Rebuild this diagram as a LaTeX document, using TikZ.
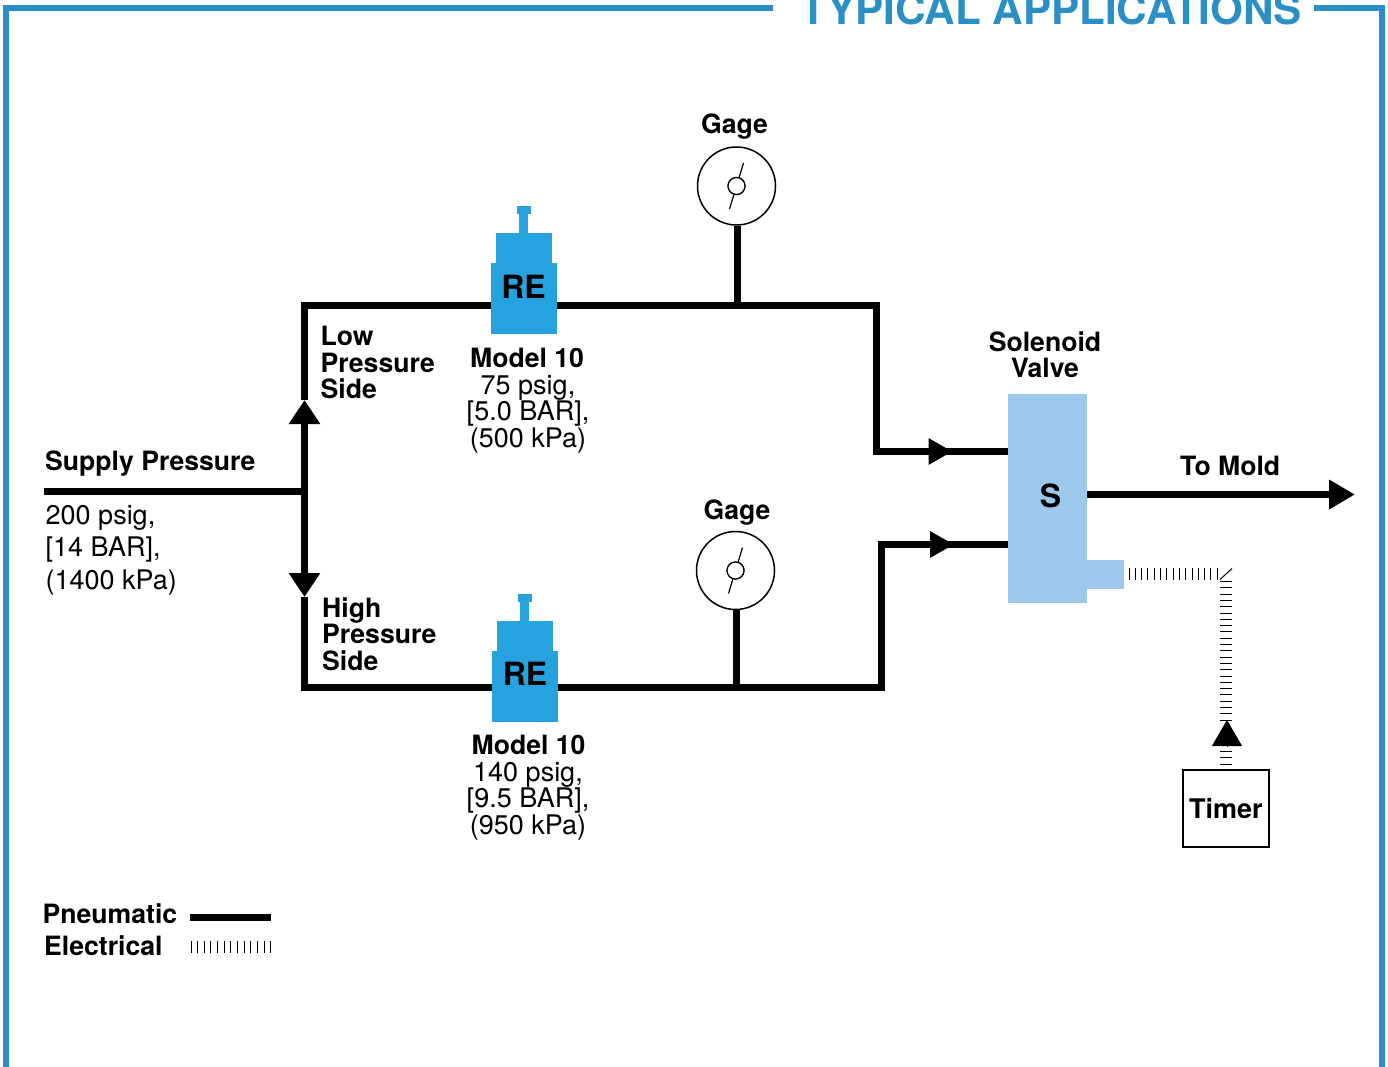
\documentclass[tikz,border=0pt]{standalone}
\usepackage{fontspec}
\setmainfont{TeX Gyre Heros}
\usetikzlibrary{arrows.meta}
\definecolor{framec}{HTML}{2A8FC4}
\definecolor{rec}{HTML}{26A3DE}
\definecolor{solc}{HTML}{9DC7EB}
\tikzset{
  lab/.style={inner sep=0pt,font=\fontsize{26.6}{26.5}\selectfont\bfseries,align=left,anchor=north west},
  val/.style={inner sep=0pt,font=\fontsize{27}{32.5}\selectfont,align=left,anchor=north west},
  cval/.style={inner sep=0pt,font=\fontsize{27}{26.5}\selectfont,align=center,anchor=north},
  pipe/.style={line width=7pt,line join=miter},
  tri/.style={-{Triangle[length=24pt,width=30pt]}},
  smalltri/.style={-{Triangle[length=24pt,width=25pt]}},
  ticks/.style={line width=12pt,dash pattern=on 1pt off 5.3pt},
  frameline/.style={line width=6pt,draw=framec},
  gage/.style={circle,draw,line width=1.5pt,minimum size=78pt,inner sep=0pt,fill=white},
  hub/.style={circle,draw,line width=1.2pt,minimum size=17pt,inner sep=0pt,fill=white},
  rebody/.style={fill=rec},
}
\newcommand{\regulator}[3]{%
  \fill[rebody] (#1+26,#2-57) rectangle (#1+40,#2-49);
  \fill[rebody] (#1+28,#2-49) rectangle (#1+37,#2-30);
  \fill[rebody] (#1+5,#2-30) rectangle (#1+61,#2);
  \node[rebody,inner sep=0pt,minimum width=66pt,minimum height=71pt,anchor=north west] (#3) at (#1,#2) {};
}
\begin{document}
\begin{tikzpicture}[x=1pt,y=-1pt]
\useasboundingbox (0,0) rectangle (1388,1067);
\clip (0,0) rectangle (1388,1067);
% frame
\coordinate (fa) at (6,1067); \coordinate (fb) at (6,8); \coordinate (fc) at (773,8);
\coordinate (fd) at (1314,8); \coordinate (fe) at (1382,8); \coordinate (ff) at (1382,1067);
\draw[frameline] (fa) -- (fb) -- (fc);
\draw[frameline] (fd) -- (fe) -- (ff);
\node[inner sep=0pt,anchor=base,text=framec,font=\fontsize{42.2}{43}\selectfont\bfseries] (title) at (1051.5,25) {TYPICAL APPLICATIONS};
% junctions
\coordinate (sup) at (44,491);
\coordinate (jn) at (304.5,491);
\coordinate (upt) at (304.5,400);
\coordinate (dnt) at (304.5,597);
\coordinate (tl) at (304.5,305);
\coordinate (bl) at (304.5,687);
\coordinate (g1j) at (737.5,305);
\coordinate (g2j) at (736.5,687);
\coordinate (tr) at (876,305);
\coordinate (trb) at (876,451.5);
\coordinate (ta1) at (952.5,451.5);
\coordinate (br) at (881,687);
\coordinate (brt) at (881,544.5);
\coordinate (ta2) at (954,544.5);
% components
\regulator{491}{263}{re1}
\regulator{492}{651}{re2}
\node[inner sep=0pt,fill=solc,minimum width=79pt,minimum height=209pt,anchor=north west] (sol) at (1008,394) {};
\node[inner sep=0pt,fill=solc,minimum width=37pt,minimum height=29pt,anchor=north west] (tab) at (1087,560) {};
\node[gage] (g1) at (736.5,186) {};
\node[gage] (g2) at (735.5,570.5) {};
\node[inner sep=0pt,draw,line width=1.5pt,minimum width=86pt,minimum height=77pt,anchor=north west,font=\fontsize{27}{27}\selectfont\bfseries] (timer) at (1182,769) {Timer};
% pipes
\draw[pipe] (sup) -- (jn);
\draw[pipe,tri] (jn) -- (upt);
\draw[pipe,tri] (jn) -- (dnt);
\draw[pipe] (upt) -- (tl) -- (re1.west |- tl);
\draw[pipe] (re1.east |- tl) -- (g1j) -- (tr) -- (trb) -- (ta1);
\draw[pipe,smalltri] (trb) -- (ta1);
\draw[pipe] (ta1) -- (sol.west |- ta1);
\draw[pipe] (dnt) -- (bl) -- (re2.west |- bl);
\draw[pipe] (re2.east |- bl) -- (g2j) -- (br) -- (brt) -- (ta2);
\draw[pipe,smalltri] (brt) -- (ta2);
\draw[pipe] (ta2) -- (sol.west |- ta2);
\draw[pipe] (g1j |- g1.south) -- (g1j);
\draw[pipe] (g2j |- g2.south) -- (g2j);
\coordinate (out) at (1355,494.5);
\draw[pipe,-{Triangle[length=26pt,width=28pt]}] (sol.east |- out) -- (out);
% gage internals
\node[hub] (h1) at (736.5,186) {};
\node[hub] (h2) at (735.5,570.5) {};
\coordinate (n1a) at (743.5,163); \coordinate (n1b) at (729.5,209);
\coordinate (n2a) at (742.5,547.5); \coordinate (n2b) at (728.5,593.5);
\draw[line width=1.2pt] (h1) -- (n1a); \draw[line width=1.2pt] (h1) -- (n1b);
\draw[line width=1.2pt] (h2) -- (n2a); \draw[line width=1.2pt] (h2) -- (n2b);
\node[hub] at (h1) {};
\node[hub] at (h2) {};
% electrical
\coordinate (e1) at (1128.5,573.5); \coordinate (e2) at (1220,573.5);
\draw[ticks] (e1) -- (e2);
\coordinate (e3) at (1226,581); \coordinate (e4) at (1226,720);
\draw[ticks] (e3) -- (e4);
\coordinate (e5) at (1220,579.5); \coordinate (e6) at (1232,568.5);
\draw[line width=1pt] (e5) -- (e6);
\coordinate (e7) at (1226,751); \coordinate (e8) at (1226,766);
\draw[ticks] (e7) -- (e8);
\coordinate (e9) at (1227,746);
\draw[-{Triangle[length=26pt,width=30pt]},line width=1pt] (e9) -- (1227,720);
% labels
\node[lab] (gl1) at (701,114) {Gage};
\node[lab] (gl2) at (703.5,500) {Gage};
\node[lab] (low) at (320.5,326) {Low\\Pressure\\Side};
\node[lab] (high) at (322,597) {High\\Pressure\\Side};
\node[lab] (supl) at (45,451) {Supply Pressure};
\node[val] (supv) at (45.5,505) {200 psig,\\{}[14 BAR],\\(1400 kPa)};
\node[inner sep=0pt,font=\fontsize{32}{32}\selectfont\bfseries] (ret1) at (523.5,287) {RE};
\node[inner sep=0pt,font=\fontsize{32}{32}\selectfont\bfseries] (ret2) at (525,674) {RE};
\node[lab,anchor=north] (m1) at (527,348) {Model 10};
\node[cval] (v1) at (528,375) {75 psig,\\{}[5.0 BAR],\\(500 kPa)};
\node[lab,anchor=north] (m2) at (528.5,735) {Model 10};
\node[cval] (v2) at (528,762) {140 psig,\\{}[9.5 BAR],\\(950 kPa)};
\node[lab,align=center,anchor=north] (sl) at (1045,331) {Solenoid\\Valve};
\node[inner sep=0pt,font=\fontsize{32}{32}\selectfont\bfseries] (st) at (1050.5,495.5) {S};
\node[lab] (tm) at (1180,456) {To Mold};
% legend
\node[lab] (lp) at (42.5,903) {Pneumatic};
\node[lab] (le) at (44,935) {Electrical};
\coordinate (lp1) at (190,917); \coordinate (lp2) at (271,917);
\draw[pipe] (lp1) -- (lp2);
\coordinate (le1) at (190.5,947); \coordinate (le2) at (271,947);
\draw[ticks,dash pattern=on 1pt off 5.65pt] (le1) -- (le2);
\end{tikzpicture}
\end{document}
